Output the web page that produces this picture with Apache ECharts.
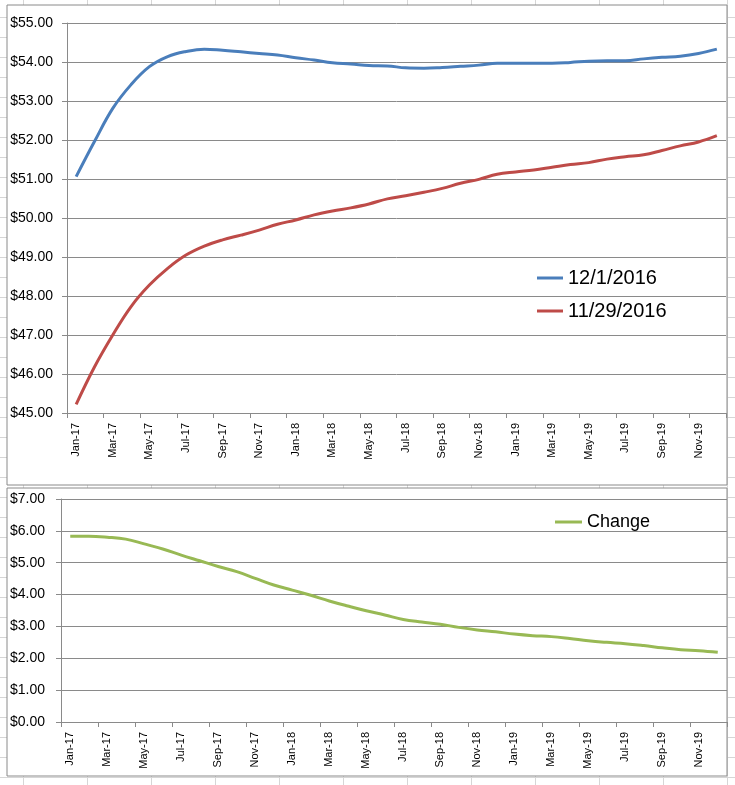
<!DOCTYPE html>
<html>
<head>
<meta charset="utf-8">
<script src="https://cdn.jsdelivr.net/npm/echarts@6/dist/echarts.min.js"></script>
<style>
html, body { margin: 0; padding: 0; }
body {
  width: 735px; height: 785px; overflow: hidden;
  background-color: #ffffff;
  background-image: linear-gradient(to right, #d6d6d6 1px, transparent 1px),
                    linear-gradient(to bottom, #d6d6d6 1px, transparent 1px);
  background-size: 64px 20px;
  background-position: 23px 17px;
}
#chart { width: 735px; height: 785px; }
</style>
</head>
<body>
<div id="chart"></div>
<script>
var months = ['Jan-17','Feb-17','Mar-17','Apr-17','May-17','Jun-17','Jul-17','Aug-17','Sep-17','Oct-17','Nov-17','Dec-17',
              'Jan-18','Feb-18','Mar-18','Apr-18','May-18','Jun-18','Jul-18','Aug-18','Sep-18','Oct-18','Nov-18','Dec-18',
              'Jan-19','Feb-19','Mar-19','Apr-19','May-19','Jun-19','Jul-19','Aug-19','Sep-19','Oct-19','Nov-19','Dec-19'];

var seriesDec1 = [51.06, 51.96, 52.81, 53.42, 53.88, 54.14, 54.27, 54.33, 54.30, 54.26, 54.22, 54.18,
                  54.11, 54.05, 53.98, 53.95, 53.91, 53.90, 53.85, 53.84, 53.86, 53.89, 53.92, 53.97,
                  53.97, 53.97, 53.97, 53.99, 54.02, 54.03, 54.03, 54.08, 54.12, 54.15, 54.22, 54.33];

var seriesNov29 = [45.22, 46.18, 47.00, 47.73, 48.28, 48.71, 49.05, 49.28, 49.44, 49.56, 49.69, 49.84,
                   49.95, 50.08, 50.18, 50.26, 50.36, 50.49, 50.57, 50.66, 50.76, 50.89, 50.99, 51.12,
                   51.18, 51.23, 51.30, 51.37, 51.42, 51.51, 51.57, 51.62, 51.73, 51.85, 51.95, 52.11];

var seriesChange = [5.83, 5.83, 5.80, 5.74, 5.59, 5.43, 5.24, 5.06, 4.88, 4.72, 4.51, 4.30,
                    4.14, 3.98, 3.80, 3.64, 3.49, 3.36, 3.22, 3.14, 3.07, 2.97, 2.89, 2.83,
                    2.76, 2.71, 2.68, 2.62, 2.55, 2.50, 2.46, 2.40, 2.33, 2.27, 2.24, 2.19];

var topNames = ['12/1/2016', '11/29/2016'];
var bottomName = 'Change';

var FONT = '"Liberation Sans", Arial, sans-serif';
var GRIDC = '#8a8a8a';

function money(v) { return '$' + v.toFixed(2); }

function xAxisCfg(gridIndex) {
  return {
    type: 'category', gridIndex: gridIndex, data: months, boundaryGap: true,
    axisLine: { show: true, lineStyle: { color: GRIDC, width: 1 } },
    axisTick: { show: true, interval: 1, length: 5, lineStyle: { color: GRIDC } },
    axisLabel: { interval: 1, rotate: 90, fontSize: 11, color: '#000', fontFamily: FONT, margin: 10 },
    splitLine: { show: false }
  };
}

function yAxisCfg(gridIndex, min, max, margin) {
  return {
    type: 'value', gridIndex: gridIndex, min: min, max: max, interval: 1,
    axisLine: { show: true, lineStyle: { color: GRIDC, width: 1 } },
    axisTick: { show: true, length: 5, lineStyle: { color: GRIDC } },
    axisLabel: { formatter: money, fontSize: 14, color: '#000', fontFamily: FONT, margin: margin },
    splitLine: { show: true, lineStyle: { color: GRIDC, width: 1 } }
  };
}

var chart = echarts.init(document.getElementById('chart'), null, { renderer: 'canvas' });
chart.setOption({
  animation: false,
  graphic: [
    { type: 'rect', z: -10, shape: { x: 7, y: 5, width: 720, height: 480 },
      style: { fill: '#ffffff', stroke: '#8a8a8a', lineWidth: 1 } },
    { type: 'rect', z: -10, shape: { x: 7, y: 488, width: 720, height: 288 },
      style: { fill: '#ffffff', stroke: '#8a8a8a', lineWidth: 1 } }
  ],
  grid: [
    { left: 67, top: 23, width: 659, height: 390 },
    { left: 61, top: 499, width: 666, height: 223 }
  ],
  legend: [
    { data: topNames, orient: 'vertical', left: 537, top: 268, padding: 0, itemWidth: 26, itemHeight: 3, itemGap: 13,
      icon: 'rect', textStyle: { fontSize: 20, fontFamily: FONT, color: '#000', lineHeight: 20 } },
    { data: [bottomName], orient: 'vertical', left: 555, top: 512, padding: 0, itemWidth: 27, itemHeight: 3,
      icon: 'rect', textStyle: { fontSize: 18, fontFamily: FONT, color: '#000', lineHeight: 20 } }
  ],
  xAxis: [xAxisCfg(0), xAxisCfg(1)],
  yAxis: [yAxisCfg(0, 45, 55, 14), yAxisCfg(1, 0, 7, 16)],
  series: [
    { name: topNames[0], type: 'line', xAxisIndex: 0, yAxisIndex: 0, data: seriesDec1,
      smooth: 0.4, showSymbol: false, color: '#4A7EBB', lineStyle: { width: 3, color: '#4A7EBB' } },
    { name: topNames[1], type: 'line', xAxisIndex: 0, yAxisIndex: 0, data: seriesNov29,
      smooth: 0.4, showSymbol: false, color: '#BE4B48', lineStyle: { width: 3, color: '#BE4B48' } },
    { name: bottomName, type: 'line', xAxisIndex: 1, yAxisIndex: 1, data: seriesChange,
      smooth: 0.4, showSymbol: false, color: '#98B954', lineStyle: { width: 3, color: '#98B954' } }
  ]
});
</script>
</body>
</html>
